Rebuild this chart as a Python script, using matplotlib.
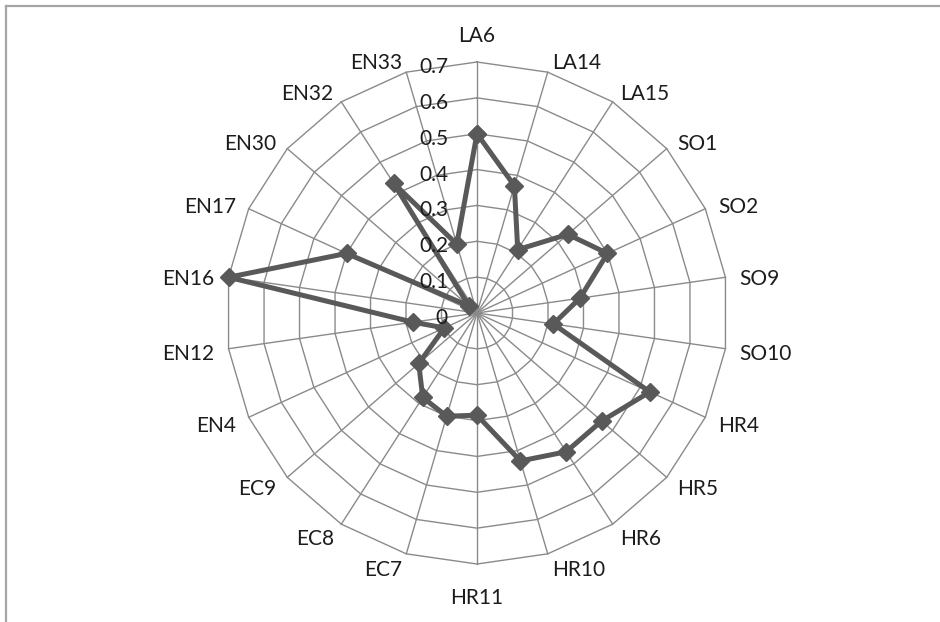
import numpy as np
import matplotlib
matplotlib.use("Agg")
import matplotlib.pyplot as plt
from matplotlib.lines import Line2D

# data
categories = ["LA6", "LA14", "LA15", "SO1", "SO2", "SO9", "SO10", "HR4", "HR5", "HR6",
              "HR10", "HR11", "EC7", "EC8", "EC9", "EN4", "EN12", "EN16", "EN17",
              "EN30", "EN32", "EN33"]
values = [0.50, 0.37, 0.21, 0.335, 0.40, 0.29, 0.215, 0.53, 0.46, 0.46,
          0.43, 0.285, 0.30, 0.28, 0.215, 0.10, 0.18, 0.70, 0.40,
          0.03, 0.43, 0.20]
ring_values = [0.1, 0.2, 0.3, 0.4, 0.5, 0.6, 0.7]
tick_labels = ["0", "0.1", "0.2", "0.3", "0.4", "0.5", "0.6", "0.7"]

plt.rcParams['font.family'] = ['Lato', 'DejaVu Sans']

W, H = 940, 622
cx, cy = 477, 313          # centre in pixels
k = 251 / 0.7              # pixels per unit

fig = plt.figure(figsize=(W / 100, H / 100), dpi=100)
ax = fig.add_axes([0, 0, 1, 1])
ax.set_xlim(-cx / k, (W - cx) / k)
ax.set_ylim(-(H - cy) / k, cy / k)
ax.axis('off')

n = len(categories)
theta = np.arange(n) * 2 * np.pi / n
s, c = np.sin(theta), np.cos(theta)
rmax = max(ring_values)

grid_col = '#8a8a8a'
# polygon rings
for r in ring_values:
    ax.plot(np.append(r * s, r * s[0]), np.append(r * c, r * c[0]),
            color=grid_col, lw=1.0, zorder=1)
# spokes
for i in range(n):
    ax.plot([0, rmax * s[i]], [0, rmax * c[i]], color=grid_col, lw=1.0, zorder=1)

txt_col = '#1c1c1c'
# value labels along the top spoke
for i, lab in enumerate(tick_labels):
    ax.annotate(lab, xy=(0, i * 0.1), xytext=(-29, -5), textcoords='offset pixels',
                ha='right', va='center', fontsize=15, color=txt_col, zorder=4)

# category labels
for i, lab in enumerate(categories):
    if s[i] > 0.1:
        ha, dy = 'left', -3.5 + c[i] * 13
    elif s[i] < -0.1:
        ha, dy = 'right', -3.5 + c[i] * 13
    else:
        ha, dy = 'center', -3.5 + c[i] * 30
    ax.annotate(lab, xy=(rmax * s[i], rmax * c[i]),
                xytext=(s[i] * 14, dy), textcoords='offset pixels',
                ha=ha, va='center', fontsize=15, color=txt_col)

# series
v = np.array(values)
xs = np.append(v * s, v[0] * s[0])
ys = np.append(v * c, v[0] * c[0])
ax.plot(xs, ys, color='#595959', lw=3.6, marker='D', markersize=9,
        markeredgecolor='#595959', zorder=3)

# chart frame (top and left edges visible)
fig.add_artist(Line2D([6 / W, 1], [1 - 6 / H, 1 - 6 / H], color='#a6a6a6', lw=1.6,
                      transform=fig.transFigure))
fig.add_artist(Line2D([6 / W, 6 / W], [0, 1 - 6 / H], color='#a6a6a6', lw=1.6,
                      transform=fig.transFigure))

fig.savefig('out.png', dpi=100)
